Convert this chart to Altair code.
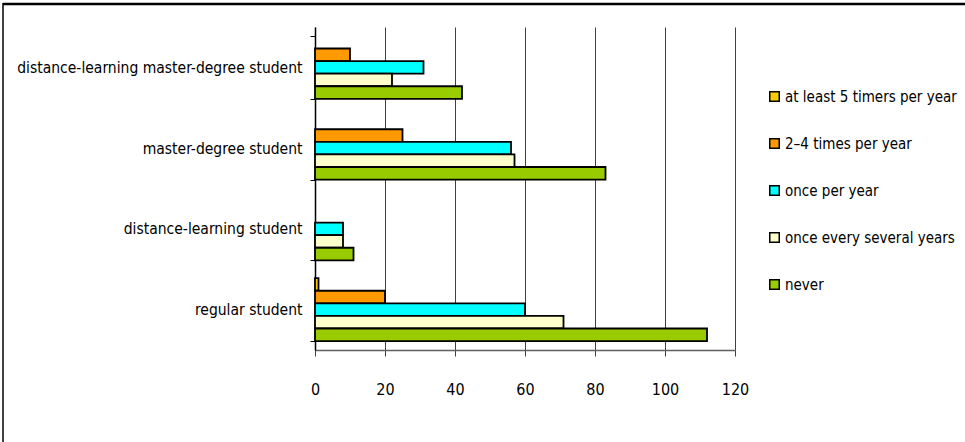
import altair as alt
import pandas as pd

categories = ["distance-learning master-degree student", "master-degree student",
              "distance-learning student", "regular student"]
series = ["at least 5 timers per year", "2–4 times per year", "once per year",
          "once every several years", "never"]
colors = ["#FFCC00", "#FF9900", "#00FFFF", "#FFFFCC", "#99CC00"]

at_least_5 = [0, 0, 0, 1]
two_four = [10, 25, 0, 20]
once_per_year = [31, 56, 8, 60]
several_years = [22, 57, 8, 71]
never = [42, 83, 11, 112]
x_ticks = [0, 20, 40, 60, 80, 100, 120]

rows = []
for s, vals in zip(series, [at_least_5, two_four, once_per_year, several_years, never]):
    for c, v in zip(categories, vals):
        rows.append({"category": c, "series": s, "value": v})
df = pd.DataFrame(rows)

FONT = "DejaVu Sans Condensed, Liberation Sans Narrow, sans-serif"

bars = alt.Chart(df).transform_filter("datum.value > 0").mark_bar(
    stroke="black", strokeWidth=1.8
).encode(
    x=alt.X("value:Q", scale=alt.Scale(domain=[0, 120], nice=False),
            axis=alt.Axis(values=x_ticks, title=None, grid=True, gridColor="#404040",
                          gridWidth=1, domainColor="#606060", domainWidth=1.5,
                          tickColor="#404040", tickSize=6, labelPadding=25,
                          labelFlush=False, labelOverlap=False,
                          labelFont=FONT, labelFontSize=16, labelColor="black")),
    y=alt.Y("category:N", sort=categories,
            scale=alt.Scale(domain=categories, paddingInner=0.22, paddingOuter=0.11),
            axis=alt.Axis(title=None, tickBand="extent", tickSize=5, tickColor="black",
                          domainColor="black", domainWidth=1.5, labelPadding=8,
                          labelFont=FONT, labelFontSize=15.5, labelColor="black",
                          labelLimit=400)),
    yOffset=alt.YOffset("series:N", sort=series,
                        scale=alt.Scale(domain=series, paddingInner=0, paddingOuter=0)),
    fill=alt.Fill("series:N", sort=series,
                  scale=alt.Scale(domain=series, range=colors),
                  legend=alt.Legend(title=None, orient="none", legendX=452, legendY=62,
                                    symbolType="square", symbolSize=90,
                                    symbolStrokeColor="black", symbolStrokeWidth=1.5,
                                    rowPadding=30, labelFont=FONT, labelFontSize=15,
                                    labelColor="black", labelOffset=3, labelLimit=300)),
)

frame_df = pd.DataFrame({"k": [0]})
top_line = alt.Chart(frame_df).mark_rule(color="black", strokeWidth=2.5).encode(
    x=alt.value(-312), x2=alt.value(660), y=alt.value(-23)
)
left_line = alt.Chart(frame_df).mark_rule(color="black", strokeWidth=1.5).encode(
    x=alt.value(-312), y=alt.value(-24), y2=alt.value(420)
)

chart = alt.layer(bars, top_line, left_line).properties(
    width=420, height=323,
    autosize=alt.AutoSizeParams(type="none"),
    padding={"left": 315, "top": 27, "right": 230, "bottom": 92},
).configure_view(stroke=None)

chart.save("out.html", embed_options={"renderer": "svg", "actions": False})
